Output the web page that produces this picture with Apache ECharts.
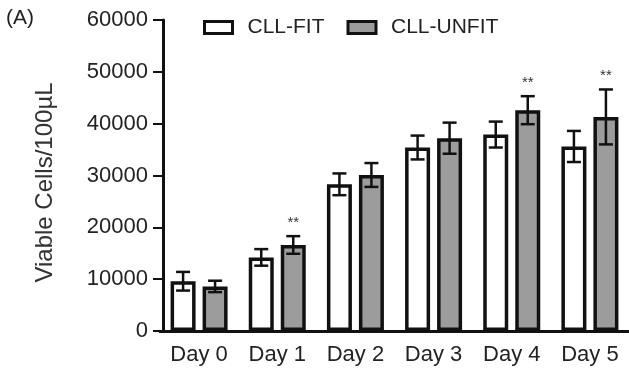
<!DOCTYPE html>
<html><head><meta charset="utf-8">
<script src="https://cdn.jsdelivr.net/npm/echarts@6/dist/echarts.min.js"></script>
<style>html,body{margin:0;padding:0;background:#fff}#c{width:629px;height:371px}</style>
</head><body><div id="c"></div>
<script>
const categories = ['Day 0','Day 1','Day 2','Day 3','Day 4','Day 5'];
const fitMean = [9600, 14200, 28300, 35400, 37900, 35600];
const fitErr = [1800, 1600, 2100, 2300, 2500, 3000];
const unfitMean = [8600, 16600, 30100, 37200, 42600, 41300];
const unfitErr = [1100, 1700, 2300, 3000, 2700, 5300];
const unfitSig = [false, true, false, false, true, true];
const yTicks = [0, 10000, 20000, 30000, 40000, 50000, 60000];

const chart = echarts.init(document.getElementById('c'));
const errData = [];
fitMean.forEach((v, i) => errData.push([i, v, fitErr[i], -1, 0]));
unfitMean.forEach((v, i) => errData.push([i, v, unfitErr[i], 1, unfitSig[i] ? 1 : 0]));

const FONT = 'Liberation Sans, Arial, sans-serif';
chart.setOption({
  animation: false,
  textStyle: { fontFamily: FONT },
  graphic: [{ type: 'text', left: 6, top: 8, style: { text: '(A)', fontSize: 21, fill: '#222', fontFamily: FONT } }],
  legend: {
    left: 198, top: 12, itemWidth: 28, itemHeight: 12, itemGap: 22, icon: 'rect',
    itemStyle: { borderWidth: 3, borderColor: '#111' },
    textStyle: { fontSize: 21, color: '#222', fontFamily: FONT, padding: [0, 0, 0, 10] },
    data: ['CLL-FIT', 'CLL-UNFIT']
  },
  grid: { left: 160, top: 20, bottom: 40, width: 473 },
  xAxis: {
    type: 'category', data: categories,
    axisLine: { lineStyle: { color: '#111', width: 3 } },
    axisTick: { alignWithLabel: true, length: 10, lineStyle: { color: '#111', width: 2 } },
    axisLabel: { fontSize: 22, color: '#222', margin: 13 }
  },
  yAxis: {
    type: 'value', min: 0, max: 60000, interval: 10000, offset: -3,
    name: 'Viable Cells/100\u00b5L', nameLocation: 'middle', nameGap: 106,
    nameTextStyle: { fontSize: 24, color: '#333', fontFamily: FONT, padding: [0, 14, 0, 0] },
    axisLine: { show: true, lineStyle: { color: '#111', width: 3 } },
    axisTick: { show: true, length: 10, lineStyle: { color: '#111', width: 2 } },
    axisLabel: { fontSize: 22, color: '#222', margin: 15, formatter: v => yTicks.includes(v) ? String(v) : '' },
    splitLine: { show: false }
  },
  series: [
    { name: 'CLL-FIT', type: 'bar', data: fitMean, barWidth: 25, barGap: '28%',
      itemStyle: { color: '#ffffff', borderColor: '#111', borderWidth: 3.5 } },
    { name: 'CLL-UNFIT', type: 'bar', data: unfitMean, barWidth: 25,
      itemStyle: { color: '#9c9c9c', borderColor: '#111', borderWidth: 3.5 } },
    { type: 'custom', data: errData, encode: { x: 0, y: 1 }, z: 10, silent: true,
      renderItem: function (params, api) {
        const x = api.value(0), v = api.value(1), e = api.value(2), side = api.value(3), sig = api.value(4);
        const top = api.coord([x, v + e]);
        const bot = api.coord([x, v - e]);
        const cx = top[0] + side * 16;
        const hw = 7;
        const st = { stroke: '#111', lineWidth: 2.5 };
        const children = [
          { type: 'line', shape: { x1: cx, y1: top[1], x2: cx, y2: bot[1] }, style: st },
          { type: 'line', shape: { x1: cx - hw, y1: top[1], x2: cx + hw, y2: top[1] }, style: st },
          { type: 'line', shape: { x1: cx - hw, y1: bot[1], x2: cx + hw, y2: bot[1] }, style: st }
        ];
        if (sig) {
          children.push({ type: 'text', style: { text: '**', x: cx, y: top[1] - 6, align: 'center', verticalAlign: 'bottom', fontSize: 15, fill: '#333', fontFamily: FONT } });
        }
        return { type: 'group', children };
      }
    }
  ]
});
</script></body></html>
